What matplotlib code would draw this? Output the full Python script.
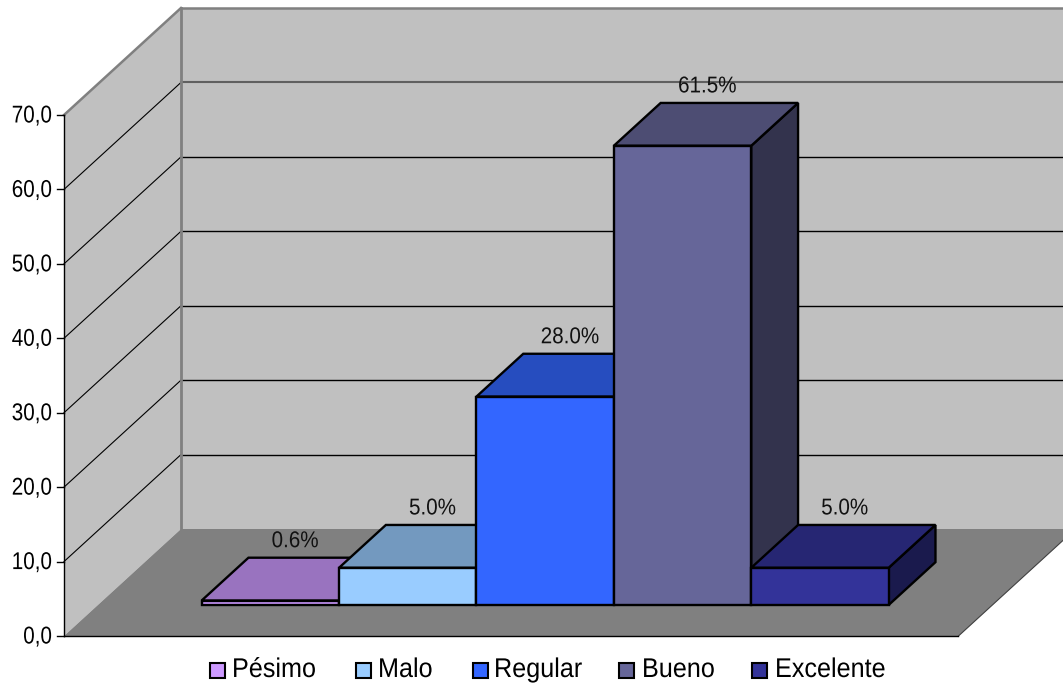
import matplotlib
matplotlib.use("Agg")
import matplotlib.pyplot as plt
from matplotlib.patches import Polygon, Rectangle
from matplotlib.patheffects import AbstractPathEffect
from matplotlib.transforms import Affine2D
from matplotlib.colors import to_rgb

categories = ["Pésimo", "Malo", "Regular", "Bueno", "Excelente"]
values = [0.6, 5.0, 28.0, 61.7, 5.0]
labels = ["0.6%", "5.0%", "28.0%", "61.5%", "5.0%"]
colors = ["#CC99FF", "#99CCFF", "#3366FF", "#666699", "#333399"]
ticks = [0, 10, 20, 30, 40, 50, 60, 70]

W, H = 1063, 686
fig = plt.figure(figsize=(W / 100, H / 100), dpi=100)
ax = fig.add_axes([0, 0, 1, 1])
ax.set_xlim(0, W)
ax.set_ylim(H, 0)
ax.axis("off")

FONT = "Liberation Sans"
X0, Y0 = 64.0, 636.0
UX = 137.4
UY = 7.443
DX, DY = 117.0, -107.0
MARGIN = 0.755
D1, D2 = 0.29, 0.69


class Squeeze(AbstractPathEffect):
    """Narrow real text horizontally around a fixed x, as in the reference's condensed type."""

    def __init__(self, sx, anchor):
        super().__init__()
        self.sx, self.anchor = sx, anchor

    def draw_path(self, renderer, gc, tpath, affine, rgbFace=None):
        t = affine + Affine2D().translate(-self.anchor, 0).scale(self.sx, 1).translate(self.anchor, 0)
        renderer.draw_path(gc, tpath, t, rgbFace)


def label(x, y, s, size, sx, ha, color="black", z=30):
    ax.text(x, y, s, ha=ha, va="center", fontsize=size, family=FONT, color=color, zorder=z,
            path_effects=[Squeeze(sx, x)])


def P(c, v, d):
    """Oblique projection: category position, value, depth -> canvas."""
    return (X0 + (c + MARGIN) * UX + d * DX, Y0 - v * UY + d * DY)


def shade(col, f):
    return tuple(x * f for x in to_rgb(col))


XMAX = 5 + MARGIN
ax.add_patch(Polygon([P(-MARGIN, 0, 1), P(XMAX, 0, 1), P(XMAX, 70, 1), P(-MARGIN, 70, 1)],
                     fc="#C0C0C0", ec="none", zorder=1))
ax.add_patch(Polygon([P(-MARGIN, 0, 0), P(-MARGIN, 0, 1), P(-MARGIN, 70, 1), P(-MARGIN, 70, 0)],
                     fc="#C0C0C0", ec="none", zorder=1))
ax.add_patch(Polygon([P(-MARGIN, 0, 0), P(XMAX, 0, 0), P(XMAX, 0, 1), P(-MARGIN, 0, 1)],
                     fc="#808080", ec="none", zorder=1))

for t in ticks[1:]:
    a, b, c = P(-MARGIN, t, 0), P(-MARGIN, t, 1), P(XMAX, t, 1)
    col = "#808080" if t == 70 else "black"
    lw = 1.8 if t == 70 else 0.8
    ax.plot([a[0], b[0]], [a[1], b[1]], color=col, lw=lw, zorder=2)
    ax.plot([b[0], c[0]], [b[1], c[1]], color="#606060" if t == 60 else col,
            lw=1.5 if t == 60 else (lw if t == 70 else 1.0), zorder=2)

a, b = P(-MARGIN, 0, 1), P(-MARGIN, 70, 1)
ax.plot([a[0], b[0]], [a[1], b[1]], color="#808080", lw=2.0, zorder=2)
a, b = P(XMAX, 0, 0), P(XMAX, 0, 1)
ax.plot([a[0], b[0]], [a[1], b[1]], color="#404040", lw=0.8, zorder=2)
a, b = P(-MARGIN, 0, 0), P(XMAX, 0, 0)
ax.plot([a[0], b[0]], [a[1], b[1]], color="black", lw=1.0, zorder=3)
a, b = P(-MARGIN, 0, 0), P(-MARGIN, 70, 0)
ax.plot([a[0], b[0]], [a[1], b[1]], color="black", lw=1.0, zorder=3)

for t in ticks:
    x, y = P(-MARGIN, t, 0)
    ax.plot([x - 7, x], [y, y], color="black", lw=1.0, zorder=3)
    label(x - 12, y + 1.5, f"{t:.1f}".replace(".", ","), 17.5, 0.85, "right", z=5)

EC = dict(ec="black", lw=1.7, joinstyle="miter")
for i, (v, col) in enumerate(zip(values, colors)):
    l, r = i, i + 1
    z = 10 + i
    ax.add_patch(Polygon([P(r, 0, D1), P(r, 0, D2), P(r, v, D2), P(r, v, D1)],
                         fc=shade(col, 0.5), zorder=z, **EC))
    ax.add_patch(Polygon([P(l, v, D1), P(r, v, D1), P(r, v, D2), P(l, v, D2)],
                         fc=shade(col, 0.75), zorder=z, **EC))
    ax.add_patch(Polygon([P(l, 0, D1), P(r, 0, D1), P(r, v, D1), P(l, v, D1)],
                         fc=col, zorder=z, **EC))
    x, y = P(i + 0.5, v, D2)
    label(x - 22, y - 17, labels[i], 16.5, 0.9, "center", color="#111111")

swatch_x = [210, 356, 473, 618.5, 752]
text_x = [232, 378, 494, 642, 775]
for sx, tx, name, col in zip(swatch_x, text_x, categories, colors):
    ax.add_patch(Rectangle((sx, 662.5), 15, 15.5, fc=col, ec="black", lw=1.5, zorder=5))
    label(tx, 670, name, 19.5, 0.93, "left", z=5)

fig.savefig("out.png", dpi=100)
